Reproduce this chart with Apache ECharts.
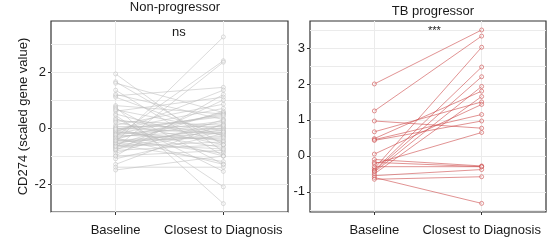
<!DOCTYPE html>
<html>
<head>
<meta charset="utf-8">
<script src="https://cdn.jsdelivr.net/npm/echarts@6/dist/echarts.min.js"></script>
<style>
  html, body { margin: 0; padding: 0; background: #fff; }
  #main { width: 557px; height: 244px; }
</style>
</head>
<body>
<div id="main"></div>
<script>
// categories on the x axis (positions 1 and 2)
const timepoints = ['Baseline', 'Closest to Diagnosis'];

// Non-progressor: paired values, baseline -> closest to diagnosis
const nonProgBaseline = [1.93, 1.65, 1.6, 1.35, 1.15, 1.1, 1.2, 0.8, 0.75, 0.7, 0.6, 0.5, 0.35, 0.25, 0.1,
  0.0, -0.05, -0.1, -0.15, -0.2, -0.25, -0.3, -0.3, -0.35, -0.4, -0.4, -0.45, -0.5, -0.5, -0.55,
  -0.6, -0.6, -0.65, -0.7, -0.7, -0.8, -0.8, -0.9, -1.0, -1.0, -1.1, -1.3, -1.4, -1.5, 0.45,
  0.3, -0.15, -0.2, -0.35, 0.05, -0.25, -0.55, 0.65, -0.1, -0.45, 0.2, -0.75, -0.65, 0.0, -0.05];
const nonProgClosest = [-0.85, -0.6, 0.55, -1.0, 1.45, -0.3, 0.3, 0.5, -2.7, -1.3, 1.1, -0.5, -1.55, 0.1, 0.85,
  -0.2, 0.4, -0.7, 1.35, 0.0, -0.4, 2.4, -0.1, 0.2, -0.9, 0.55, -0.15, 3.25, -0.3, 0.0,
  -1.2, 0.6, -0.5, 2.35, -0.05, 1.0, -0.6, 0.3, -0.8, 1.2, -0.2, 0.15, -1.4, -1.0, -2.1,
  -0.25, -0.45, 0.5, -1.3, 0.05, 0.25, -0.75, -0.1, 0.45, -0.35, -0.6, -0.15, 0.1, -1.0, 0.7];

// TB progressor: paired values
const progBaseline = [2.0, 1.25, 0.97, 0.67, 0.48, 0.45, 0.43, 0.05, -0.1, -0.18,
  -0.22, -0.35, -0.4, -0.42, -0.45, -0.5, -0.55, -0.6, -0.65, -0.3];
const progClosest = [3.5, 3.33, 0.77, 1.5, 1.8, 1.15, 0.97, 1.43, -0.28, -0.3,
  0.65, 3.02, 2.47, 2.2, 1.93, 1.65, -0.38, -1.32, -0.58, -0.3];

// tick values
const leftMajor = [-2, 0, 2];
const leftGrid = [-3, -2, -1, 0, 1, 2, 3];
const rightMajor = [-1, 0, 1, 2, 3];
const rightGrid = [-1.5, -1, -0.5, 0, 0.5, 1, 1.5, 2, 2.5, 3, 3.5];

const font = 'Liberation Sans, Arial, Helvetica, sans-serif';
const gridColor = '#ebebeb';

var myChart = echarts.init(document.getElementById('main'));

function xAxisFor(gridIndex) {
  return {
    type: 'value', gridIndex: gridIndex, min: 0.4, max: 2.6, position: 'bottom',
    axisLine: { show: false, onZero: false },
    axisTick: { show: true, customValues: [1, 2], length: 3, lineStyle: { color: '#333' } },
    axisLabel: {
      customValues: [1, 2], margin: 12, color: '#1a1a1a', fontSize: 13, fontFamily: font,
      formatter: v => timepoints[Math.round(v) - 1]
    },
    splitLine: { show: true, lineStyle: { color: gridColor, width: 1 } }
  };
}

// grid lines axis + ticks/labels axis for each panel
function yAxesFor(gridIndex, min, max, gridVals, majorVals, withName) {
  return [
    {
      type: 'value', gridIndex: gridIndex, min: min, max: max,
      axisLine: { show: false, onZero: false },
      axisTick: { show: false, customValues: gridVals },
      axisLabel: { show: false },
      splitLine: { show: true, lineStyle: { color: gridColor, width: 1 } }
    },
    {
      type: 'value', gridIndex: gridIndex, min: min, max: max, position: 'left',
      axisLine: { show: false, onZero: false },
      axisTick: { show: true, customValues: majorVals, length: 3, lineStyle: { color: '#333' } },
      axisLabel: { customValues: majorVals, margin: 5, color: '#1a1a1a', fontSize: 13, fontFamily: font },
      splitLine: { show: false },
      name: withName ? 'CD274 (scaled gene value)' : '',
      nameLocation: 'middle', nameGap: 21,
      nameTextStyle: { color: '#1a1a1a', fontSize: 13, fontFamily: font }
    }
  ];
}

var series = [];
function addPairs(base, close, gridIndex, yIndex, color) {
  for (let i = 0; i < base.length; i++) {
    series.push({
      type: 'line', xAxisIndex: gridIndex, yAxisIndex: yIndex,
      data: [[1, base[i]], [2, close[i]]],
      symbol: 'circle', symbolSize: 4, silent: true, animation: false,
      lineStyle: { color: color, width: 1 },
      itemStyle: { color: 'rgba(255,255,255,0.3)', borderColor: color, borderWidth: 1 }
    });
  }
}
addPairs(nonProgBaseline, nonProgClosest, 0, 1, 'rgba(190,190,190,0.55)');
addPairs(progBaseline, progClosest, 1, 3, 'rgba(205,75,75,0.6)');

var option = {
  backgroundColor: '#fff',
  animation: false,
  title: [
    { text: 'Non-progressor', left: 170, top: -4, textAlign: 'center',
      textStyle: { fontSize: 13, fontWeight: 'normal', color: '#1a1a1a', fontFamily: font } },
    { text: 'TB progressor', left: 428, top: 0, textAlign: 'center',
      textStyle: { fontSize: 13, fontWeight: 'normal', color: '#1a1a1a', fontFamily: font } }
  ],
  grid: [
    { left: 51, top: 21, width: 237, height: 191, show: true, borderColor: '#333', borderWidth: 1.2, backgroundColor: '#fff' },
    { left: 310, top: 21, width: 236, height: 191, show: true, borderColor: '#333', borderWidth: 1.2, backgroundColor: '#fff' }
  ],
  xAxis: [xAxisFor(0), xAxisFor(1)],
  yAxis: yAxesFor(0, -3.0, 3.82, leftGrid, leftMajor, true).concat(yAxesFor(1, -1.56, 3.75, rightGrid, rightMajor, false)),
  graphic: [
    { type: 'text', left: 172, top: 26, style: { text: 'ns', font: '13px ' + font, fill: '#1a1a1a', textAlign: 'center' } },
    { type: 'text', left: 428, top: 25, style: { text: '***', font: '11px ' + font, fill: '#1a1a1a', textAlign: 'center' } }
  ],
  series: series
};

myChart.setOption(option);
</script>
</body>
</html>
